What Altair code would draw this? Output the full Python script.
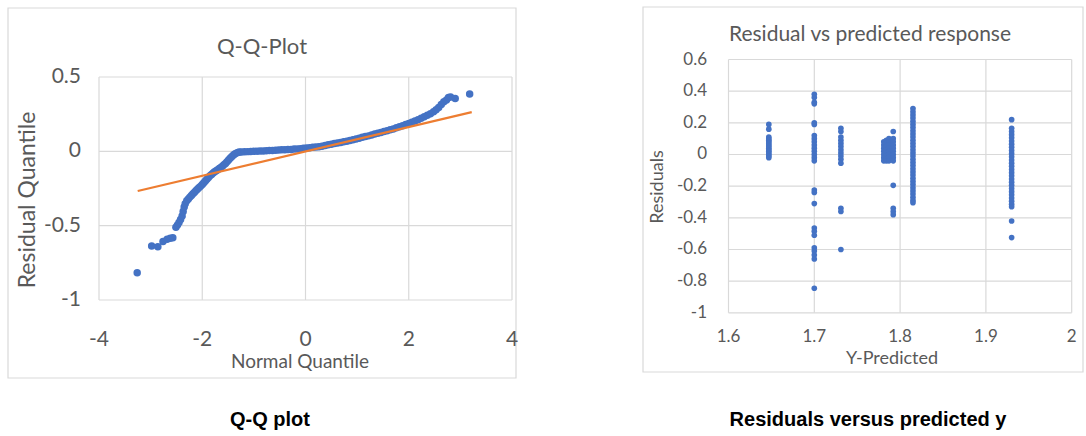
import altair as alt
import pandas as pd

# ---------------- Q-Q plot data ----------------
qq_x = [-3.26, -2.98, -2.86, -2.76, -2.68, -2.62, -2.57, -2.51, -2.48, -2.45, -2.42, -2.39, -2.37,
        -2.35, -2.33, -2.30, -2.27, -2.24, -2.21, -2.18, -2.15, -2.12, -2.09, -2.06, -2.03, -2.00,
        -1.97, -1.94, -1.91, -1.88, -1.85, -1.82, -1.79, -1.76, -1.73, -1.70, -1.67, -1.64, -1.61,
        -1.58, -1.55, -1.52, -1.49, -1.46, -1.43, -1.40, -1.37, -1.34, -1.31, -1.28,
        -1.24, -1.18, -1.12, -1.06, -1.00, -0.94, -0.88, -0.82, -0.76, -0.70, -0.64, -0.58, -0.52,
        -0.46, -0.40, -0.34, -0.28, -0.22, -0.16, -0.10, -0.04, 0.02, 0.08, 0.14, 0.20, 0.26, 0.32,
        0.38, 0.44, 0.50, 0.56, 0.62, 0.68, 0.74, 0.80, 0.86, 0.92, 0.98, 1.04, 1.10, 1.16, 1.22,
        1.28, 1.34, 1.40, 1.46, 1.52, 1.58, 1.64, 1.70, 1.76, 1.82, 1.88, 1.94, 2.00, 2.06, 2.12,
        2.18, 2.24, 2.30, 2.36, 2.42, 2.48, 2.53, 2.58, 2.63, 2.68, 2.73, 2.77, 2.81, 2.90, 3.18]
qq_y = [-0.817, -0.637, -0.642, -0.607, -0.592, -0.585, -0.582, -0.510, -0.495, -0.478, -0.458,
        -0.435, -0.405, -0.375, -0.352, -0.333, -0.320, -0.308, -0.297, -0.286, -0.275, -0.264,
        -0.254, -0.244, -0.234, -0.223, -0.212, -0.200, -0.188, -0.176, -0.165, -0.155, -0.146,
        -0.138, -0.131, -0.124, -0.116, -0.108, -0.100, -0.091, -0.081, -0.070, -0.058, -0.047,
        -0.036, -0.026, -0.018, -0.012, -0.008, -0.005,
        -0.004, -0.003, -0.002, -0.001, 0.000, 0.001, 0.002, 0.003, 0.004, 0.005, 0.006, 0.008,
        0.009, 0.010, 0.011, 0.012, 0.013, 0.015, 0.016, 0.018, 0.020, 0.022, 0.024, 0.027, 0.029,
        0.031, 0.034, 0.040, 0.044, 0.048, 0.052, 0.056, 0.060, 0.064, 0.068, 0.073, 0.078, 0.083,
        0.088, 0.094, 0.099, 0.104, 0.110, 0.116, 0.121, 0.127, 0.133, 0.139, 0.145, 0.151, 0.158,
        0.165, 0.172, 0.180, 0.188, 0.196, 0.204, 0.213, 0.222, 0.232, 0.242, 0.253, 0.266, 0.280,
        0.295, 0.315, 0.334, 0.345, 0.362, 0.366, 0.355, 0.386]
fit_x = [-3.25, 3.22]
fit_y = [-0.267, 0.264]
qq_xticks = [-4, -2, 0, 2, 4]
qq_yticks = [0.5, 0, -0.5, -1]

# ---------------- Residual vs predicted data ----------------
pred_levels = [1.647, 1.700, 1.731, 1.781, 1.784, 1.787, 1.792, 1.815, 1.930]
res_1647 = [0.19, 0.16, 0.11, 0.10, 0.09, 0.08, 0.07, 0.06, 0.05, 0.04, 0.03, 0.02, 0.01, 0.0, -0.01, -0.02]
res_1700 = [0.38, 0.36, 0.33, 0.32, 0.20, 0.19, 0.12, 0.10, 0.08, 0.06, 0.04, 0.02, 0.0, -0.02, -0.04,
            -0.225, -0.24, -0.31, -0.465, -0.485, -0.51, -0.59, -0.61, -0.635, -0.66, -0.845]
res_1731 = [0.165, 0.145, 0.11, 0.09, 0.07, 0.05, 0.03, 0.01, -0.01, -0.03, -0.055, -0.34, -0.36, -0.60]
res_1781 = [0.08, 0.06, 0.04, 0.02, 0.0, -0.02, -0.04]
res_1784 = [0.09, 0.07, 0.05, 0.03, 0.01, -0.01, -0.03, -0.04]
res_1787 = [0.10, 0.08, 0.06, 0.04, 0.02, 0.0, -0.02, -0.04]
res_1792 = [0.145, 0.10, 0.08, 0.06, 0.04, 0.02, 0.0, -0.02, -0.04, -0.195, -0.34, -0.36, -0.38]
res_1815 = [0.29, 0.27, 0.25, 0.23, 0.21, 0.19, 0.17, 0.15, 0.13, 0.11, 0.09, 0.07, 0.05, 0.03, 0.01,
            -0.01, -0.03, -0.05, -0.07, -0.09, -0.11, -0.13, -0.15, -0.17, -0.19, -0.21, -0.23, -0.25,
            -0.27, -0.29, -0.305]
res_1930 = [0.22, 0.165, 0.145, 0.125, 0.105, 0.085, 0.065, 0.045, 0.025, 0.005, -0.015, -0.035,
            -0.055, -0.075, -0.095, -0.115, -0.135, -0.155, -0.175, -0.195, -0.215, -0.235, -0.255,
            -0.275, -0.295, -0.315, -0.33, -0.42, -0.525]
res_columns = [res_1647, res_1700, res_1731, res_1781, res_1784, res_1787, res_1792, res_1815, res_1930]
rp_xticks = [1.6, 1.7, 1.8, 1.9, 2.0]
rp_xlabels = ["1.6", "1.7", "1.8", "1.9", "2"]
rp_yticks = [0.6, 0.4, 0.2, 0, -0.2, -0.4, -0.6, -0.8, -1]
rp_ylabels = ["0.6", "0.4", "0.2", "0", "-0.2", "-0.4", "-0.6", "-0.8", "-1"]

# ---------------- styling ----------------
FONT = "Lato"
TXT = "#595959"
GRID = "#d9d9d9"
BLUE = "#4472C4"
ORANGE = "#ED7D31"

qx = alt.Scale(domain=[-4, 4], range=[99, 512], nice=False, zero=False)
qy = alt.Scale(domain=[-1, 0.5], range=[300, 77], nice=False, zero=False)
rx = alt.Scale(domain=[1.6, 2.0], range=[728.5, 1071.7], nice=False, zero=False)
ry = alt.Scale(domain=[-1, 0.6], range=[312.8, 59.5], nice=False, zero=False)

one = pd.DataFrame({"a": [0]})


def frame(x1, x2, y1, y2):
    return alt.Chart(one).mark_rect(filled=False, stroke=GRID, strokeWidth=1.2).encode(
        x=alt.value(x1), x2=alt.value(x2), y=alt.value(y1), y2=alt.value(y2))


def label(text, x, y, size, angle=0, bold=False, font=FONT, color=TXT):
    return alt.Chart(one).mark_text(
        text=text, fontSize=size, font=font, color=color, angle=angle,
        fontWeight="bold" if bold else "normal", align="center", baseline="middle"
    ).encode(x=alt.value(x), y=alt.value(y))


def panel(xs, ys, xticks, yticks, xlabels, ylabels, xlab_y, ylab_x, fsize):
    xmin, xmax = xs.domain[0], xs.domain[1]
    ymin, ymax = ys.domain[0], ys.domain[1]
    vg = pd.DataFrame({"gx": xticks, "g0": [ymin] * len(xticks), "g1": [ymax] * len(xticks),
                       "lab": xlabels})
    hg = pd.DataFrame({"gy": yticks, "g0": [xmin] * len(yticks), "g1": [xmax] * len(yticks),
                       "lab": ylabels})
    vrule = alt.Chart(vg).mark_rule(color=GRID, strokeWidth=1.2).encode(
        x=alt.X("gx:Q", scale=xs, axis=None),
        y=alt.Y("g0:Q", scale=ys, axis=None), y2="g1:Q")
    hrule = alt.Chart(hg).mark_rule(color=GRID, strokeWidth=1.2).encode(
        y=alt.Y("gy:Q", scale=ys, axis=None),
        x=alt.X("g0:Q", scale=xs, axis=None), x2="g1:Q")
    xtext = alt.Chart(vg).mark_text(font=FONT, fontSize=fsize, color=TXT, baseline="middle").encode(
        x=alt.X("gx:Q", scale=xs, axis=None), y=alt.value(xlab_y), text="lab:N")
    ytext = alt.Chart(hg).mark_text(font=FONT, fontSize=fsize, color=TXT, align="right",
                                    baseline="middle").encode(
        y=alt.Y("gy:Q", scale=ys, axis=None), x=alt.value(ylab_x), text="lab:N")
    return [vrule, hrule, xtext, ytext]


# Q-Q panel
qq_df = pd.DataFrame({"q": qq_x, "r": qq_y})
fit_df = pd.DataFrame({"q": fit_x, "r": fit_y})
qq_layers = [frame(8, 516, 8, 378)] + panel(
    qx, qy, qq_xticks, qq_yticks, ["-4", "-2", "0", "2", "4"], ["0.5", "0", "-0.5", "-1"],
    340, 81, 21)
qq_layers += [
    alt.Chart(qq_df).mark_circle(color=BLUE, opacity=1, size=56).encode(
        x=alt.X("q:Q", scale=qx, axis=None), y=alt.Y("r:Q", scale=qy, axis=None)),
    alt.Chart(fit_df).mark_line(color=ORANGE, strokeWidth=2.2).encode(
        x=alt.X("q:Q", scale=qx, axis=None), y=alt.Y("r:Q", scale=qy, axis=None)),
    label("Q-Q-Plot", 262, 47, 22),
    label("Normal Quantile", 300, 362, 19),
    label("Residual Quantile", 28, 200, 23, angle=270),
]

# Residual panel
rows = []
for lvl, col in zip(pred_levels, res_columns):
    for v in col:
        rows.append({"p": lvl, "e": v})
rp_df = pd.DataFrame(rows)
rp_layers = [frame(643, 1083, 7, 372)] + panel(
    rx, ry, rp_xticks, rp_yticks, rp_xlabels, rp_ylabels, 337, 707, 17)
rp_layers += [
    alt.Chart(rp_df).mark_circle(color=BLUE, opacity=1, size=32).encode(
        x=alt.X("p:Q", scale=rx, axis=None), y=alt.Y("e:Q", scale=ry, axis=None)),
    label("Residual  vs predicted  response", 870, 35, 21),
    label("Y-Predicted", 892, 359, 18),
    label("Residuals", 658, 187, 18, angle=270),
]

captions = [
    label("Q-Q plot", 270, 420, 20, bold=True, font="Liberation Sans", color="#000000"),
    label("Residuals versus predicted y", 868, 420, 20, bold=True, font="Liberation Sans", color="#000000"),
]

chart = alt.layer(*(qq_layers + rp_layers + captions)).resolve_scale(
    x="independent", y="independent"
).properties(
    width=1086, height=436, autosize=alt.AutoSizeParams(type="none"), padding=0,
    background="white"
).configure_view(stroke=None)

chart.save("out.html", embed_options={"renderer": "svg", "actions": False})
